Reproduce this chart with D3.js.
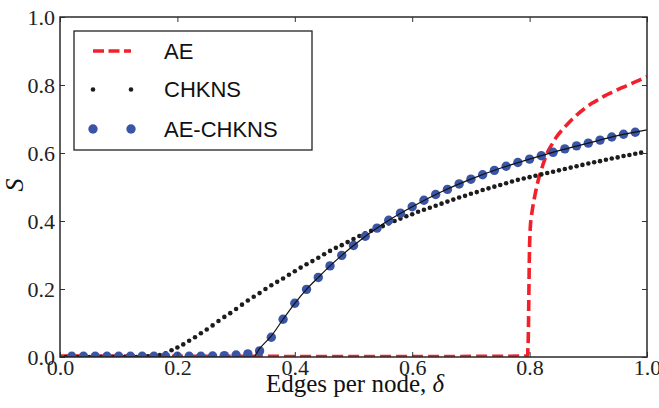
<!DOCTYPE html>
<html>
<head>
<meta charset="utf-8">
<script src="https://cdn.jsdelivr.net/npm/d3@7"></script>
<style>
  body { margin: 0; background: #fff; }
  svg { display: block; }
</style>
</head>
<body>
<div id="chart"></div>
<script>
'use strict';

var outerWidth = 659;
var outerHeight = 408;
var margin = {left: 60, right: 12, top: 17, bottom: 51};

// CHKNS simulation: one dot every 0.01 in delta
var chkDelta = d3.range(1, 100).map(function(i){ return i / 100; });
var chkS = [
  0, 0, 0, 0, 0, 0, 0, 0, 0, 0, 0, 0, 0, 0.001, 0.002, 0.003,
  0.006, 0.011, 0.020, 0.028, 0.037, 0.048, 0.058, 0.070, 0.081, 0.093,
  0.106, 0.118, 0.129, 0.141, 0.154, 0.166, 0.177, 0.188, 0.200, 0.211,
  0.221, 0.231, 0.242, 0.252, 0.263, 0.273, 0.282, 0.292, 0.302, 0.312,
  0.321, 0.329, 0.338, 0.347, 0.356, 0.364, 0.371, 0.378, 0.385, 0.393,
  0.400, 0.407, 0.414, 0.420, 0.427, 0.433, 0.439, 0.445, 0.451, 0.457,
  0.463, 0.469, 0.474, 0.480, 0.485, 0.491, 0.496, 0.501, 0.506, 0.511,
  0.516, 0.521, 0.525, 0.529, 0.533, 0.537, 0.541, 0.545, 0.549, 0.553,
  0.557, 0.561, 0.565, 0.569, 0.573, 0.576, 0.580, 0.584, 0.587, 0.591,
  0.594, 0.598, 0.601
];

// AE-CHKNS simulation: one dot every 0.02
var aeChkDelta = d3.range(1, 50).map(function(i){ return i / 50; });
var aeChkS = [
  0.002, 0.002, 0.002, 0.002, 0.002, 0.002, 0.002, 0.002, 0.002, 0.002, 0.002, 0.002,
  0.003, 0.004, 0.006, 0.009,
  0.018, 0.058, 0.111, 0.158, 0.199, 0.234, 0.268, 0.299, 0.328, 0.355,
  0.379, 0.402, 0.423, 0.442, 0.461, 0.478, 0.493, 0.509, 0.523, 0.536,
  0.549, 0.561, 0.572, 0.582, 0.592, 0.602, 0.612, 0.621, 0.629, 0.638,
  0.647, 0.655, 0.661
];

// AE-CHKNS theory (solid black line)
var theoryDelta = [0, 0.329, 0.34, 0.36, 0.38, 0.40, 0.42, 0.44, 0.46, 0.48, 0.50,
  0.55, 0.60, 0.65, 0.70, 0.75, 0.80, 0.85, 0.90, 0.95, 1.0];
var theoryS = [0, 0, 0.025, 0.062, 0.111, 0.158, 0.199, 0.234, 0.268, 0.299, 0.328,
  0.391, 0.442, 0.486, 0.523, 0.555, 0.582, 0.607, 0.629, 0.651, 0.668];

// AE (red dashed)
var aeDelta = [0, 0.790, 0.796, 0.797, 0.798, 0.7985, 0.799, 0.7995, 0.800, 0.801,
  0.802, 0.804, 0.806, 0.809, 0.812, 0.816, 0.821, 0.826, 0.832, 0.839,
  0.846, 0.854, 0.863, 0.873, 0.883, 0.894, 0.906, 0.917, 0.928, 0.940,
  0.951, 0.964, 0.977, 0.989, 1.0];
var aeS = [0.003, 0.003, 0.004, 0.02, 0.08, 0.15, 0.22, 0.28, 0.33, 0.375,
  0.400, 0.425, 0.447, 0.475, 0.500, 0.528, 0.556, 0.582, 0.607, 0.628,
  0.648, 0.665, 0.682, 0.700, 0.716, 0.731, 0.746, 0.757, 0.768, 0.778,
  0.787, 0.797, 0.807, 0.816, 0.825];

var tickValues = [0, 0.2, 0.4, 0.6, 0.8, 1.0];
var legendLabels = ['AE', 'CHKNS', 'AE-CHKNS'];

var red = '#f2202a';
var blue = '#3a55a6';
var dark = '#1c1c1c';
var serif = '"Liberation Serif", "DejaVu Serif", serif';

var svg = d3.select('#chart').append('svg')
  .attr('width', outerWidth)
  .attr('height', outerHeight);

var xScale = d3.scaleLinear().domain([0, 1]).range([margin.left, outerWidth - margin.right]);
var yScale = d3.scaleLinear().domain([0, 1]).range([outerHeight - margin.bottom, margin.top]);

var x0 = xScale(0), x1 = xScale(1), y0 = yScale(0), y1 = yScale(1);

svg.append('clipPath').attr('id', 'plotclip')
  .append('rect')
  .attr('x', x0).attr('y', y1)
  .attr('width', x1 - x0).attr('height', y0 - y1);

var plot = svg.append('g').attr('clip-path', 'url(#plotclip)');

// red AE curve
var aeLine = d3.line()
  .x(function(d, i){ return xScale(aeDelta[i]); })
  .y(function(d){ return yScale(d); })
  .curve(d3.curveCatmullRom.alpha(0.5));

plot.append('path')
  .attr('d', aeLine(aeS))
  .attr('fill', 'none')
  .attr('stroke', red)
  .attr('stroke-width', 3.6)
  .attr('stroke-dasharray', '11,5');

// CHKNS dots
plot.selectAll('circle.chk').data(chkS).enter().append('circle')
  .attr('class', 'chk')
  .attr('cx', function(d, i){ return xScale(chkDelta[i]); })
  .attr('cy', function(d){ return yScale(d); })
  .attr('r', 2.3)
  .attr('fill', dark);

// AE-CHKNS dots
plot.selectAll('circle.aechk').data(aeChkS).enter().append('circle')
  .attr('class', 'aechk')
  .attr('cx', function(d, i){ return xScale(aeChkDelta[i]); })
  .attr('cy', function(d){ return yScale(d); })
  .attr('r', 4.7)
  .attr('fill', blue);

// theory line on top of the blue dots
var theoryLine = d3.line()
  .x(function(d, i){ return xScale(theoryDelta[i]); })
  .y(function(d){ return yScale(d); })
  .curve(d3.curveMonotoneX);

plot.append('path')
  .attr('d', theoryLine(theoryS))
  .attr('fill', 'none')
  .attr('stroke', '#111')
  .attr('stroke-width', 1.2);

// axes, ticks pointing inward on all four sides
function styleAxis(g, showLabels){
  g.select('.domain').remove();
  g.selectAll('.tick line').attr('stroke', '#333').attr('stroke-width', 1);
  g.selectAll('.tick text')
    .style('font-family', serif)
    .style('font-size', '22px')
    .attr('fill', '#222');
  if(!showLabels) g.selectAll('.tick text').remove();
}

var fmt = d3.format('.1f');

svg.append('g')
  .attr('transform', 'translate(0,' + y0 + ')')
  .call(d3.axisBottom(xScale).tickValues(tickValues).tickFormat(fmt).tickSize(-5).tickPadding(2))
  .call(styleAxis, true);

svg.append('g')
  .attr('transform', 'translate(0,' + y1 + ')')
  .call(d3.axisTop(xScale).tickValues(tickValues).tickSize(-5))
  .call(styleAxis, false);

svg.append('g')
  .attr('transform', 'translate(' + x0 + ',0)')
  .call(d3.axisLeft(yScale).tickValues(tickValues).tickFormat(fmt).tickSize(-5).tickPadding(5))
  .call(styleAxis, true);

svg.append('g')
  .attr('transform', 'translate(' + x1 + ',0)')
  .call(d3.axisRight(yScale).tickValues(tickValues).tickSize(-5))
  .call(styleAxis, false);

// frame
svg.append('rect')
  .attr('x', x0).attr('y', y1)
  .attr('width', x1 - x0).attr('height', y0 - y1)
  .attr('fill', 'none')
  .attr('stroke', '#2a2a2a')
  .attr('stroke-width', 1.5);

// axis titles
var xTitle = svg.append('text')
  .attr('x', 355)
  .attr('y', 392)
  .attr('text-anchor', 'middle')
  .style('font-family', serif)
  .style('font-size', '25px')
  .attr('fill', '#111')
  .text('Edges per node, ');
xTitle.append('tspan').style('font-style', 'italic').text('δ');

svg.append('text')
  .attr('transform', 'translate(23,185) rotate(-90)')
  .attr('text-anchor', 'middle')
  .style('font-family', serif)
  .style('font-style', 'italic')
  .style('font-size', '26px')
  .attr('fill', '#111')
  .text('S');

// legend
var legend = svg.append('g');
legend.append('rect')
  .attr('x', 74).attr('y', 31)
  .attr('width', 238).attr('height', 119)
  .attr('fill', '#fff')
  .attr('stroke', '#222')
  .attr('stroke-width', 1.3);

var rowY = [51, 89.5, 129];
var markX = [93, 131];

legend.append('line')
  .attr('x1', markX[0]).attr('x2', markX[1])
  .attr('y1', rowY[0]).attr('y2', rowY[0])
  .attr('stroke', red)
  .attr('stroke-width', 3.6)
  .attr('stroke-dasharray', '11,4.5');

legend.selectAll('circle.lchk').data(markX).enter().append('circle')
  .attr('cx', function(d){ return d; })
  .attr('cy', rowY[1])
  .attr('r', 2.3)
  .attr('fill', dark);

legend.selectAll('circle.laechk').data(markX).enter().append('circle')
  .attr('cx', function(d){ return d; })
  .attr('cy', rowY[2])
  .attr('r', 4.7)
  .attr('fill', blue);

legend.selectAll('text').data(legendLabels).enter().append('text')
  .attr('x', 164)
  .attr('y', function(d, i){ return rowY[i]; })
  .attr('dy', '0.36em')
  .style('font-family', '"Liberation Sans", Arial, sans-serif')
  .style('font-size', '22px')
  .attr('fill', '#111')
  .text(function(d){ return d; });
</script>
</body>
</html>
